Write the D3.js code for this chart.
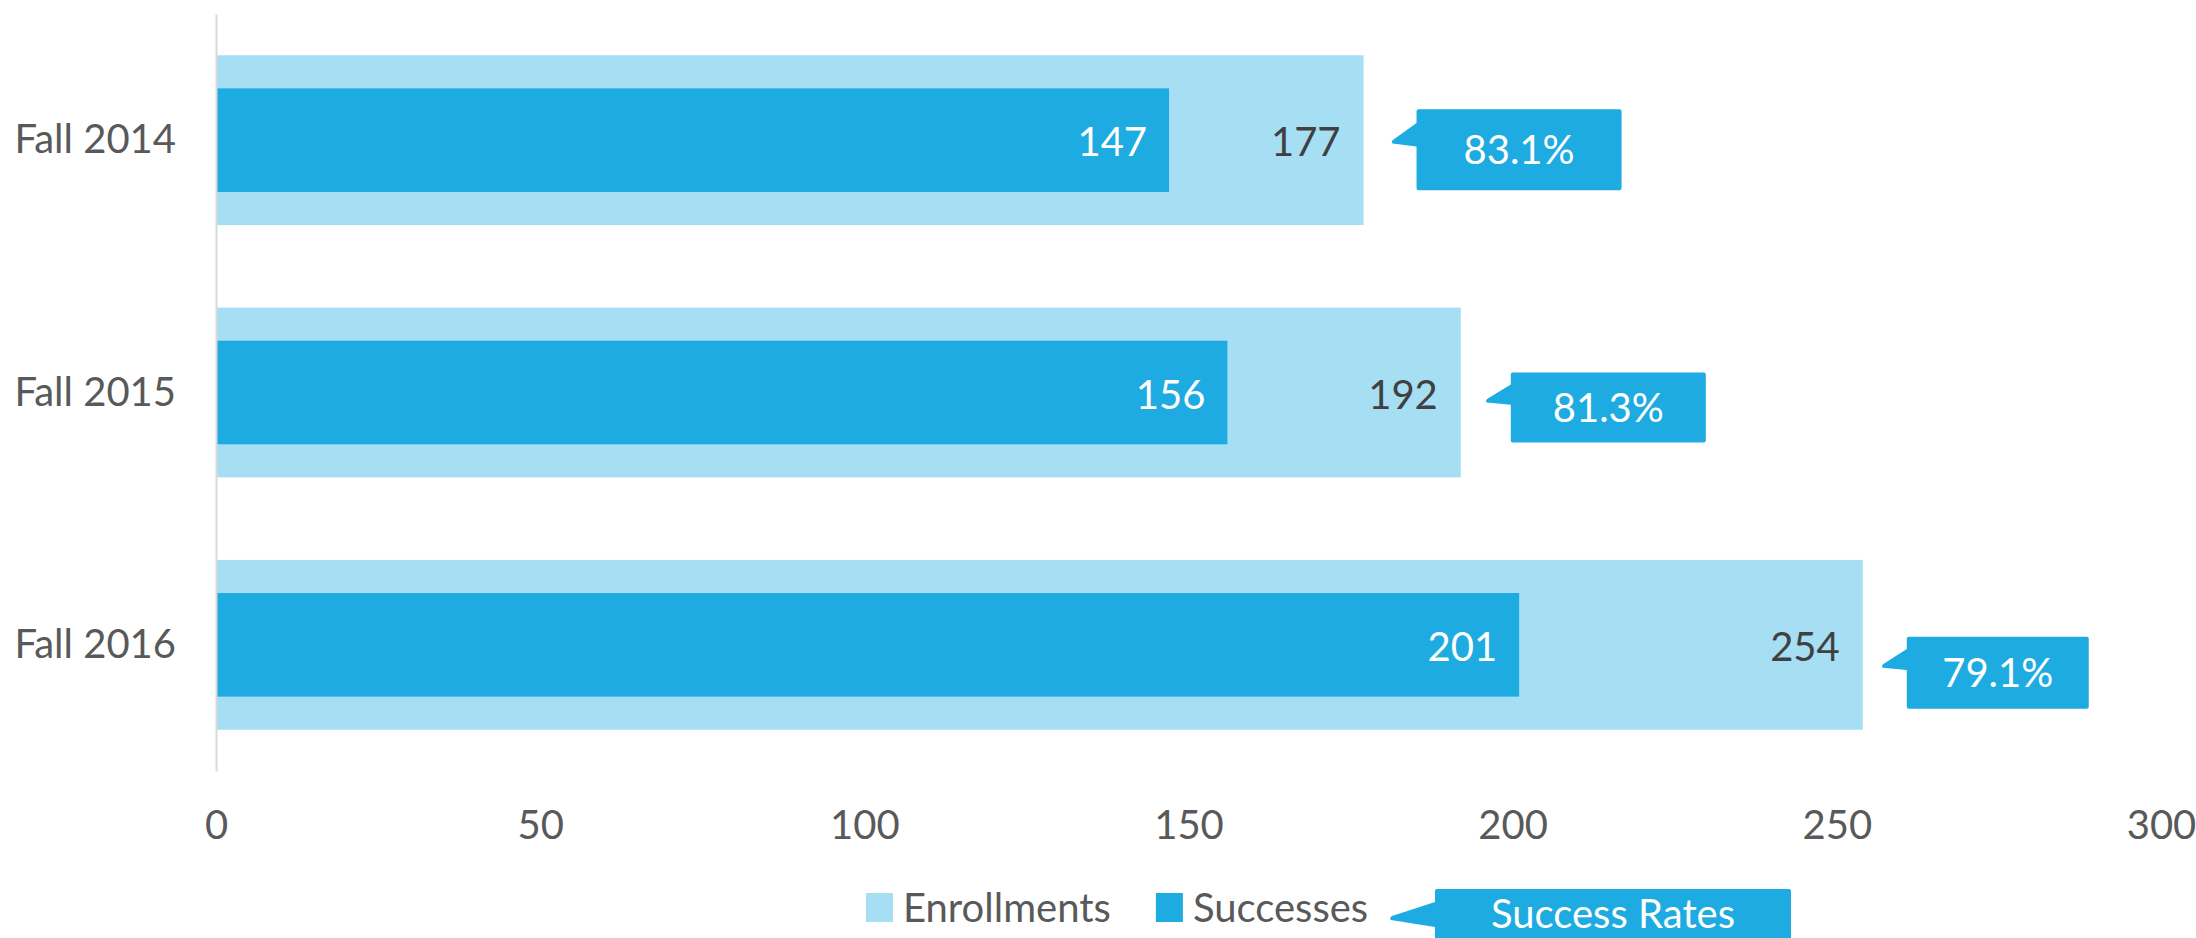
<!DOCTYPE html>
<html>
<head>
<meta charset="utf-8">
<script src="https://cdn.jsdelivr.net/npm/d3@7"></script>
<style>
  html, body { margin: 0; padding: 0; background: #ffffff; }
  svg { display: block; }
  text { font-family: "Lato", "Open Sans", sans-serif; }
</style>
</head>
<body>
<svg id="chart" width="2196" height="938"></svg>
<script>
// ---- data ----
const categories = ["Fall 2014", "Fall 2015", "Fall 2016"];
const enrollments = [177, 192, 254];
const successes = [147, 156, 201];
const successRates = [83.1, 81.3, 79.1];
const xTicks = [0, 50, 100, 150, 200, 250, 300];
const legendLabels = ["Enrollments", "Successes", "Success Rates"];

// ---- layout / style ----
const W = 2196, H = 938;
const FONT = 40;
const colLight = "#A6DEF3";
const colDark = "#1EABE2";
const textGray = "#595959";
const textDark = "#404040";
// callout boxes (Excel auto-sized): offset from bar end, vertical offset from band centre, size
const calloutLayout = [
  { dx: 53, dy: -31, w: 205, h: 81 },
  { dx: 50, dy: -20, w: 195, h: 70 },
  { dx: 44, dy: -8,  w: 182, h: 72 }
];

const svg = d3.select("#chart");

const x = d3.scaleLinear().domain([0, 300]).range([216, 2161]);
const y = d3.scaleBand().domain(categories).range([14, 771])
  .paddingInner(0.327).paddingOuter(0.1635);

const rows = categories.map((c, i) => ({
  cat: c, enr: enrollments[i], suc: successes[i], rate: successRates[i], lay: calloutLayout[i]
}));

// enrollments bars
svg.append("g").selectAll("rect").data(rows).join("rect")
  .attr("x", x(0))
  .attr("y", d => y(d.cat))
  .attr("width", d => x(d.enr) - x(0))
  .attr("height", y.bandwidth())
  .attr("fill", colLight);

// successes bars (narrower, centred)
const innerH = y.bandwidth() * 0.61;
svg.append("g").selectAll("rect").data(rows).join("rect")
  .attr("x", x(0))
  .attr("y", d => y(d.cat) + (y.bandwidth() - innerH) / 2)
  .attr("width", d => x(d.suc) - x(0))
  .attr("height", innerH)
  .attr("fill", colDark);

// left axis
const gy = svg.append("g").attr("transform", `translate(${x(0)},0)`)
  .call(d3.axisLeft(y).tickSize(0).tickSizeOuter(0).tickPadding(40));
gy.select(".domain").attr("stroke", "#D9D9D9").attr("stroke-width", 2);
gy.selectAll("text").attr("font-size", FONT).attr("fill", textGray)
  .attr("font-family", "Lato, 'Open Sans', sans-serif").attr("dy", "0.33em");

// bottom axis
const gx = svg.append("g").attr("transform", "translate(0,771)")
  .call(d3.axisBottom(x).tickValues(xTicks).tickSize(0).tickPadding(40));
gx.select(".domain").remove();
gx.selectAll("text").attr("font-size", FONT).attr("fill", textGray)
  .attr("font-family", "Lato, 'Open Sans', sans-serif");

const mid = d => y(d.cat) + y.bandwidth() / 2;

// value labels
svg.append("g").selectAll("text").data(rows).join("text")
  .attr("x", d => x(d.suc) - 22)
  .attr("y", d => mid(d) + 16)
  .attr("text-anchor", "end")
  .attr("font-size", FONT)
  .attr("fill", "#ffffff")
  .text(d => d.suc);

svg.append("g").selectAll("text").data(rows).join("text")
  .attr("x", d => x(d.enr) - 23)
  .attr("y", d => mid(d) + 16)
  .attr("text-anchor", "end")
  .attr("font-size", FONT)
  .attr("fill", textDark)
  .text(d => d.enr);

// callout shape path: box with pointer on the left side
function calloutPath(left, top, w, h, tipDx, r, bt, tp, bb) {
  const p = d3.path();
  p.moveTo(left + r, top);
  p.lineTo(left + w - r, top);
  p.quadraticCurveTo(left + w, top, left + w, top + r);
  p.lineTo(left + w, top + h - r);
  p.quadraticCurveTo(left + w, top + h, left + w - r, top + h);
  p.lineTo(left + r, top + h);
  p.quadraticCurveTo(left, top + h, left, top + h - r);
  p.lineTo(left, top + bb);
  p.lineTo(left - tipDx, top + tp + 2);
  p.quadraticCurveTo(left - tipDx - 2, top + tp, left - tipDx + 1, top + tp - 2);
  p.lineTo(left, top + bt);
  p.lineTo(left, top + r);
  p.quadraticCurveTo(left, top, left + r, top);
  p.closePath();
  return p.toString();
}

const cg = svg.append("g").selectAll("g").data(rows).join("g");
cg.append("path")
  .attr("d", d => {
    const left = x(d.enr) + d.lay.dx;
    const top = mid(d) + d.lay.dy;
    const h = d.lay.h;
    return calloutPath(left, top, d.lay.w, h, 24, 2, 0.17 * h, 0.40 * h, 0.46 * h);
  })
  .attr("fill", colDark);
cg.append("text")
  .attr("x", d => x(d.enr) + d.lay.dx + d.lay.w / 2)
  .attr("y", d => mid(d) + d.lay.dy + d.lay.h / 2 + 14)
  .attr("text-anchor", "middle")
  .attr("font-size", FONT)
  .attr("fill", "#ffffff")
  .text(d => d.rate.toFixed(1) + "%");

// legend
const legend = svg.append("g");
const legY = 893;
let lx = 866;
const swW = 27, swH = 29;
[colLight, colDark].forEach((c, i) => {
  legend.append("rect").attr("x", lx).attr("y", legY).attr("width", swW).attr("height", swH).attr("fill", c);
  const t = legend.append("text").attr("x", lx + swW + 10).attr("y", legY + swH)
    .attr("font-size", FONT).attr("fill", textGray).text(legendLabels[i]);
  const tw = t.node().getComputedTextLength();
  lx = lx + swW + 10 + tw + 45;
});
// legend callout for Success Rates
const lcLeft = 1435, lcTop = 889, lcW = 356, lcH = 80;
legend.append("path")
  .attr("d", calloutPath(lcLeft, lcTop, lcW, lcH, 44, 2, 13, 29, 38))
  .attr("fill", colDark);
legend.append("text")
  .attr("x", lcLeft + lcW / 2).attr("y", lcTop + 39)
  .attr("text-anchor", "middle").attr("font-size", FONT).attr("fill", "#ffffff")
  .text(legendLabels[2]);
</script>
</body>
</html>
